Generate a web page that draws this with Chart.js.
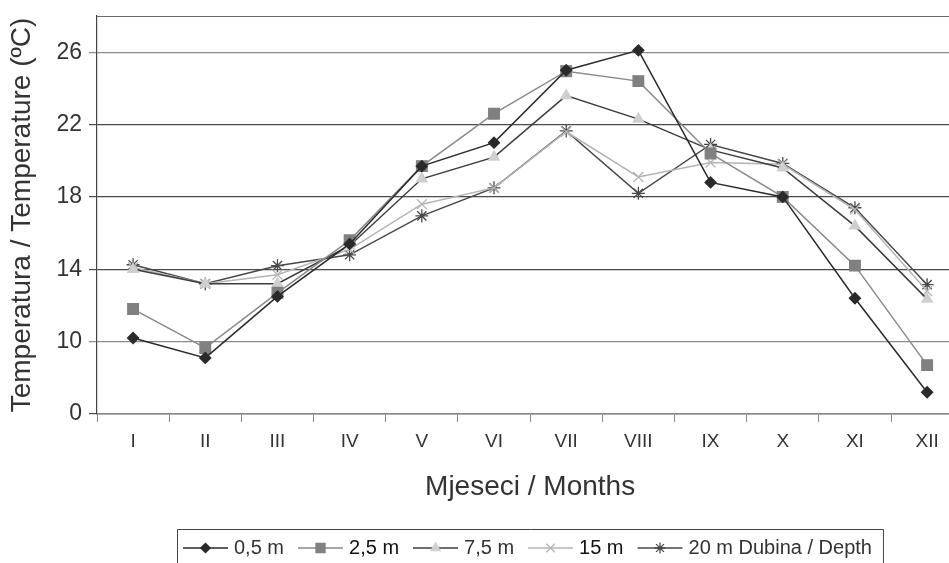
<!DOCTYPE html>
<html>
<head>
<meta charset="utf-8">
<script src="https://cdn.jsdelivr.net/npm/chart.js@4.4.1/dist/chart.umd.min.js"></script>
<style>
html,body{margin:0;padding:0;background:#fff;}
#wrap{width:949px;height:563px;overflow:hidden;position:relative;}
canvas{display:block;}
</style>
</head>
<body>
<div id="wrap"><canvas id="c" width="972" height="563"></canvas></div>
<script>
const months = ['I','II','III','IV','V','VI','VII','VIII','IX','X','XI','XII'];
const yTickValues = [6, 10, 14, 18, 22, 26];
const yTickLabels = ['0', '10', '14', '18', '22', '26'];
const depth05 = [10.2, 9.1, 12.5, 15.4, 19.7, 21.0, 25.0, 26.1, 18.8, 18.0, 12.4, 7.2];
const depth25 = [11.8, 9.65, 12.7, 15.6, 19.7, 22.6, 24.95, 24.4, 20.4, 18.0, 14.2, 8.7];
const depth75 = [14.0, 13.2, 13.2, 15.3, 19.0, 20.2, 23.6, 22.3, 20.6, 19.6, 16.4, 12.35];
const depth15 = [14.1, 13.2, 13.7, 15.1, 17.6, 18.5, 21.6, 19.1, 19.9, 19.8, 17.3, 12.8];
const depth20 = [14.25, 13.2, 14.2, 14.8, 16.95, 18.5, 21.65, 18.2, 20.9, 19.85, 17.4, 13.15];
const seriesNames = ['0,5 m', '2,5 m', '7,5 m', '15 m', '20 m Dubina / Depth'];

const FONT = "'Liberation Sans', Arial, Helvetica, sans-serif";

function ds(label, data, line, ptColor, style, radius, ptBorder) {
  return {
    label, data,
    borderColor: line, borderWidth: 1.5,
    pointStyle: style, pointRadius: radius, pointHoverRadius: radius,
    pointBackgroundColor: ptColor, pointBorderColor: ptBorder || ptColor,
    pointBorderWidth: 1.3, tension: 0, fill: false
  };
}

const datasets = [
  ds(seriesNames[0], depth05, '#2a2a2a', '#2a2a2a', 'rectRot', 5.5),
  ds(seriesNames[1], depth25, '#8a8a8a', '#808080', 'rect', 7.5),
  ds(seriesNames[2], depth75, '#3c3c3c', '#cfcfcf', 'triangle', 6),
  ds(seriesNames[3], depth15, '#b4b4b4', '#b4b4b4', 'crossRot', 7),
  ds(seriesNames[4], depth20, '#484848', '#484848', 'star', 6.5)
];

function drawMarker(ctx, d, x, y) {
  const o = {pointStyle: d.pointStyle, radius: d.pointRadius, rotation: 0, borderWidth: d.pointBorderWidth};
  ctx.save();
  ctx.fillStyle = d.pointBackgroundColor;
  ctx.strokeStyle = d.pointBorderColor;
  ctx.lineWidth = d.pointBorderWidth;
  if (Chart.helpers && Chart.helpers.drawPoint) {
    Chart.helpers.drawPoint(ctx, o, x, y);
  }
  ctx.restore();
}

const framePlugin = {
  id: 'frame',
  afterDraw(chart) {
    const ctx = chart.ctx, a = chart.chartArea;
    ctx.save();
    ctx.strokeStyle = '#6a6a6a';
    ctx.lineWidth = 1;
    ctx.beginPath();
    ctx.moveTo(a.left, a.top + 0.5);
    ctx.lineTo(a.right, a.top + 0.5);
    ctx.stroke();

    // legend
    ctx.font = '20px ' + FONT;
    ctx.textBaseline = 'middle';
    const lineLen = 45, gapText = 6, gapItem = 14;
    let total = 0;
    seriesNames.forEach((n, i) => {
      total += lineLen + gapText + ctx.measureText(n).width + (i < seriesNames.length - 1 ? gapItem : 0);
    });
    const padL = 6, padR = 11;
    const center = (a.left + a.right) / 2;
    let x = Math.round(center - (total + padL + padR) / 2 + padL);
    const boxL = x - padL, boxR = x + total + padR;
    const yc = 548, boxT = 529.5;
    ctx.strokeStyle = '#444';
    ctx.beginPath();
    ctx.moveTo(boxL + 0.5, 600);
    ctx.lineTo(boxL + 0.5, boxT);
    ctx.lineTo(boxR + 0.5, boxT);
    ctx.lineTo(boxR + 0.5, 600);
    ctx.stroke();
    datasets.forEach((d, i) => {
      ctx.strokeStyle = d.borderColor;
      ctx.lineWidth = 1.5;
      ctx.beginPath();
      ctx.moveTo(x, yc);
      ctx.lineTo(x + lineLen, yc);
      ctx.stroke();
      drawMarker(ctx, Object.assign({}, d, {pointRadius: d.pointRadius * 0.85}), x + lineLen / 2, yc);
      x += lineLen + gapText;
      ctx.fillStyle = (i === 1 || i === 3) ? '#111' : '#333';
      ctx.font = '20px ' + FONT;
      ctx.textAlign = 'left';
      ctx.fillText(seriesNames[i], x, yc);
      x += ctx.measureText(seriesNames[i]).width + gapItem;
    });
    ctx.restore();
  }
};

new Chart(document.getElementById('c'), {
  type: 'line',
  data: {labels: months, datasets},
  options: {
    responsive: false,
    animation: false,
    layout: {padding: {top: 16, right: 0, bottom: 53, left: 0}},
    plugins: {legend: {display: false}, tooltip: {enabled: false}},
    scales: {
      x: {
        offset: true,
        grid: {display: true, drawOnChartArea: false, drawTicks: true, tickLength: 8, offset: true, color: '#888'},
        border: {display: true, color: '#888', width: 1.5},
        ticks: {color: '#333', font: {family: FONT, size: 19}, padding: 8, maxRotation: 0, autoSkip: false},
        title: {display: true, text: 'Mjeseci / Months', color: '#333', font: {family: FONT, size: 28}, padding: {top: 0, bottom: 6}},
        afterFit(s) { s.height = 96; s.paddingLeft = 0; s.paddingRight = 0; }
      },
      y: {
        min: 6, max: 28,
        afterBuildTicks(s) { s.ticks = yTickValues.map(v => ({value: v})); },
        grid: {
          drawTicks: true, tickLength: 8,
          color: c => (c.tick && (c.tick.value === 10 || c.tick.value === 26)) ? '#8a8a8a' : '#4a4a4a',
          lineWidth: 1.2
        },
        border: {display: true, color: '#444', width: 1.2},
        ticks: {
          color: '#333', font: {family: FONT, size: 23}, padding: 7,
          callback: v => { const i = yTickValues.indexOf(v); return i >= 0 ? yTickLabels[i] : ''; }
        },
        title: {display: true, text: 'Temperatura / Temperature (ºC)', color: '#333', font: {family: FONT, size: 28}, padding: {top: 5, bottom: 0}},
        afterFit(s) { s.width = 97; s.paddingTop = 0; s.paddingBottom = 0; }
      }
    }
  },
  plugins: [framePlugin]
});
</script>
</body>
</html>
